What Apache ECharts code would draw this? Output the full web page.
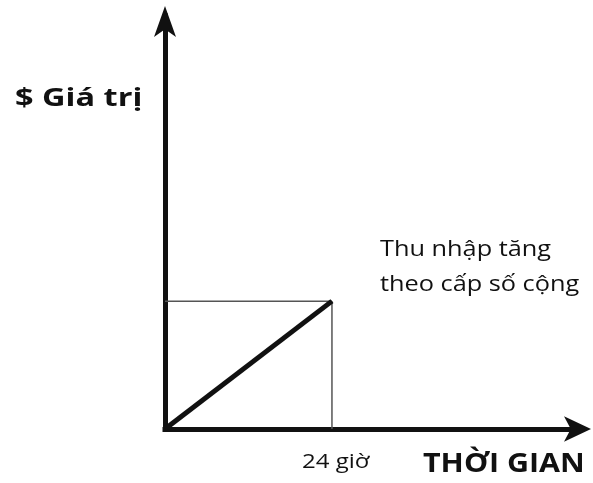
<!DOCTYPE html>
<html>
<head>
<meta charset="utf-8">
<script src="https://cdn.jsdelivr.net/npm/echarts@6/dist/echarts.min.js"></script>
<style>
html,body{margin:0;padding:0;background:#fff;}
#chart{width:593px;height:483px;}
</style>
</head>
<body>
<div id="chart"></div>
<script>
// Data
const hours = [0, 24];            // time (hours)
const income = [0, 100];          // value, arithmetic growth
const yAxisTitle = '$ Giá trị';
const xAxisTitle = 'THỜI GIAN';
const xTickLabel = '24 giờ';
const noteLines = ['Thu nhập tăng', 'theo cấp số cộng'];

const chart = echarts.init(document.getElementById('chart'), null, {renderer: 'canvas'});

const linePoints = hours.map((h, i) => [h, income[i]]);
const endH = hours[hours.length - 1];
const endV = income[income.length - 1];
const guideHorizontal = [[0, endV], [endH, endV]];
const guideVertical = [[endH, 0], [endH, endV]];

const axisCommon = {
  type: 'value',
  min: 0,
  axisTick: {show: false},
  axisLabel: {show: false},
  splitLine: {show: false}
};

const font = '"Open Sans", "Noto Sans", sans-serif';

chart.setOption({
  animation: false,
  backgroundColor: '#ffffff',
  grid: {left: 165, right: 12, top: 16, bottom: 54},
  xAxis: Object.assign({}, axisCommon, {
    max: 59.8,
    axisLine: {
      show: true,
      symbol: ['none', 'arrow'],
      symbolSize: [19, 27],
      symbolOffset: [0, 10],
      lineStyle: {color: '#111', width: 5, cap: 'square'}
    }
  }),
  yAxis: Object.assign({}, axisCommon, {
    max: 323,
    axisLine: {
      show: true,
      symbol: ['none', 'arrow'],
      symbolSize: [16.5, 31],
      symbolOffset: [0, 10],
      lineStyle: {color: '#111', width: 5, cap: 'square'}
    }
  }),
  series: [
    {
      type: 'line',
      data: guideHorizontal,
      symbol: 'none',
      silent: true,
      lineStyle: {color: '#555', width: 1.5}
    },
    {
      type: 'line',
      data: guideVertical,
      symbol: 'none',
      silent: true,
      lineStyle: {color: '#555', width: 1.5}
    },
    {
      type: 'line',
      data: linePoints,
      symbol: 'none',
      clip: false,
      lineStyle: {color: '#111', width: 5}
    }
  ],
  graphic: [
    {type: 'text', x: 15, y: 86, scaleX: 1.3,
      style: {text: yAxisTitle, font: 'bold 25px ' + font, fill: '#111', verticalAlign: 'top'}},
    {type: 'text', x: 380, y: 238.7, scaleX: 1.15,
      style: {text: noteLines[0], font: '22px ' + font, fill: '#111', verticalAlign: 'top'}},
    {type: 'text', x: 380, y: 274.2, scaleX: 1.15,
      style: {text: noteLines[1], font: '22px ' + font, fill: '#111', verticalAlign: 'top'}},
    {type: 'text', x: 302, y: 451.8, scaleX: 1.2,
      style: {text: xTickLabel, font: '20px ' + font, fill: '#111', verticalAlign: 'top'}},
    {type: 'text', x: 423, y: 451.6, scaleX: 1.17,
      style: {text: xAxisTitle, font: 'bold 26px ' + font, fill: '#111', verticalAlign: 'top'}}
  ]
});
</script>
</body>
</html>
